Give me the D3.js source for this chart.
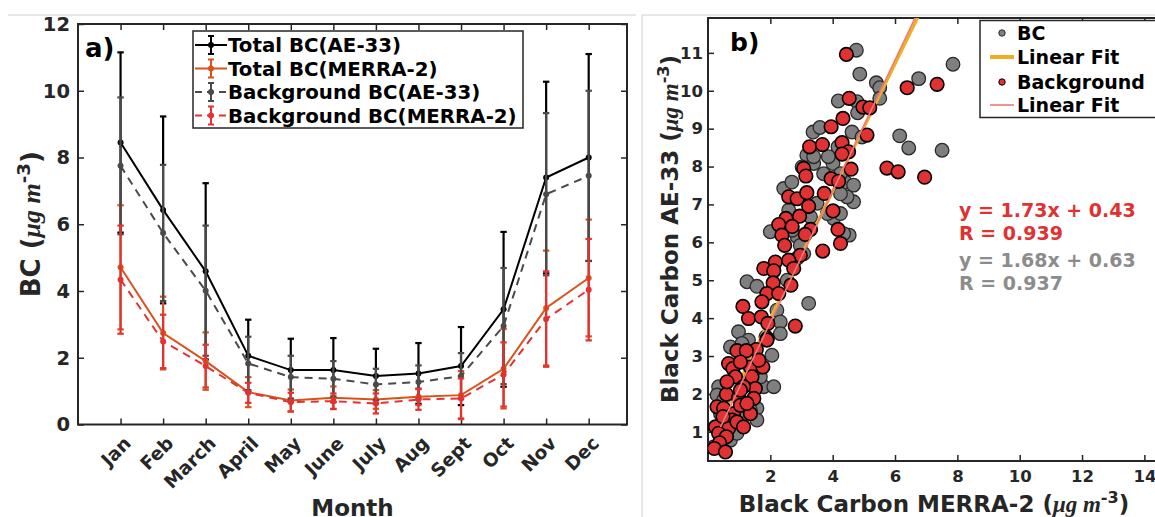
<!DOCTYPE html>
<html>
<head>
<meta charset="utf-8">
<script src="https://cdn.jsdelivr.net/npm/d3@7"></script>
<style>
body { margin: 0; background: #fff; }
svg { display: block; }
text { font-family: "DejaVu Sans", sans-serif; font-weight: bold; }
</style>
</head>
<body>
<svg id="chart" width="1155" height="517" fill="#262626"></svg>
<script>
// PANEL A DATA
const months = ['Jan', 'Feb', 'March', 'April', 'May', 'June', 'July', 'Aug', 'Sept', 'Oct', 'Nov', 'Dec']
const totalAE33 = [8.45, 6.43, 4.59, 2.06, 1.63, 1.63, 1.45, 1.53, 1.75, 3.45, 7.4, 8.0]
const totalAE33Sd = [2.7, 2.8, 2.64, 1.08, 0.94, 0.96, 0.82, 0.91, 1.17, 2.32, 2.87, 3.1]
const totalMERRA = [4.71, 2.74, 1.9, 0.97, 0.72, 0.8, 0.75, 0.83, 0.88, 1.67, 3.49, 4.39]
const totalMERRASd = [1.86, 1.09, 0.86, 0.45, 0.33, 0.34, 0.28, 0.25, 0.72, 1.19, 1.72, 1.75]
const bgAE33 = [7.75, 5.74, 4.01, 1.83, 1.42, 1.37, 1.2, 1.27, 1.45, 2.95, 6.9, 7.45]
const bgAE33Sd = [2.05, 2.04, 1.95, 0.8, 0.64, 0.53, 0.47, 0.5, 0.69, 1.74, 2.43, 2.55]
const bgMERRA = [4.34, 2.49, 1.75, 0.95, 0.67, 0.7, 0.63, 0.75, 0.78, 1.5, 3.16, 4.04]
const bgMERRASd = [1.62, 0.8, 0.64, 0.3, 0.28, 0.23, 0.3, 0.31, 0.6, 0.96, 1.43, 1.52]
const seriesNames = ['Total BC(AE-33)', 'Total BC(MERRA-2)', 'Background BC(AE-33)', 'Background BC(MERRA-2)']

// PANEL B DATA  [MERRA-2, AE-33]
const bcPoints = [[4.76,11.07],[7.86,10.7],[4.87,10.44],[6.76,10.32],[5.4,10.21],[5.51,10.08],[5.51,9.8],[4.18,9.73],[4.78,9.71],[4.8,9.42],
	[4.62,8.91],[4.94,8.78],[6.15,8.81],[6.44,8.49],[7.51,8.43],[3.37,8.91],[3.59,9.03],[3.17,8.3],[3.39,8.08],[4.01,8.08],
	[3.02,7.99],[2.43,7.42],[2.69,7.59],[4.4,7.59],[4.67,7.51],[4.67,7.07],[4.46,7.2],[3.5,7.03],[2.59,6.85],[4.03,6.63],
	[2.0,6.28],[4.53,6.19],[2.86,6.15],[1.25,4.96],[1.57,4.84],[3.23,4.39],[2.21,4.21],[2.32,3.9],[0.98,3.64],[1.3,3.42],
	[2.05,3.02],[0.72,3.24],[1.79,2.19],[0.34,2.19],[1.57,1.62],[1.57,1.31],[0.72,0.78],[0.29,1.97],[1.68,2.45],[1.52,2.67],
	[1.25,2.89],[1.09,3.33],[1.86,3.51],[2.54,5.0],[2.86,5.58],[3.07,5.7],[2.96,5.92],[2.7,6.32],[3.29,6.67],[3.83,6.76],
	[3.71,7.81],[4.25,7.81],[3.86,8.26],[4.17,8.52],[3.39,8.26],[0.56,0.96],[0.4,1.48],[0.82,1.0],[1.04,1.4],[0.5,1.84],
	[0.4,0.69],[0.18,0.6],[4.25,7.28],[4.25,6.76],[4.35,6.23],[2.32,3.59],[2.11,2.19],[1.36,1.57],[0.93,0.96],[1.2,2.3]]
const bgPoints = [[4.44,10.96],[6.39,10.08],[7.35,10.17],[4.53,9.8],[4.97,9.57],[5.19,9.55],[3.95,9.05],[4.33,9.27],[5.1,8.83],[3.26,8.52],
	[3.67,8.58],[4.3,8.63],[4.51,8.39],[4.3,8.33],[5.74,7.96],[6.1,7.86],[6.95,7.72],[4.59,7.93],[3.07,7.95],[3.14,7.75],
	[3.95,7.68],[4.19,7.61],[2.59,7.2],[2.86,7.15],[3.17,7.31],[3.73,7.29],[3.23,6.95],[4.01,6.83],[2.5,6.63],[2.27,6.47],
	[2.94,6.69],[2.7,6.42],[3.29,6.34],[4.17,6.34],[3.12,6.21],[2.37,6.19],[4.25,5.97],[2.46,5.92],[3.68,5.77],[2.96,5.66],
	[2.16,5.48],[2.59,5.53],[1.79,5.31],[2.75,5.31],[2.11,5.25],[2.09,4.93],[2.66,4.87],[1.89,4.65],[2.27,4.65],[1.73,4.43],
	[1.12,4.31],[1.3,3.99],[1.71,4.03],[1.92,3.86],[2.8,3.79],[1.9,3.46],[1.55,3.17],[0.93,3.14],[1.23,3.14],[0.66,2.8],
	[0.8,2.67],[1.36,2.71],[1.76,2.71],[0.88,2.45],[1.41,2.45],[1.52,2.14],[1.14,2.19],[0.59,1.99],[0.98,1.9],[1.47,1.88],
	[0.29,1.66],[0.5,1.62],[0.82,1.48],[1.36,1.48],[0.77,1.31],[0.45,1.22],[0.24,1.13],[0.66,1.09],[0.34,0.96],[0.59,0.87],
	[0.37,0.71],[0.2,0.56],[0.56,0.47],[1.04,1.7],[1.25,1.75],[0.93,1.26],[1.14,1.13],[0.48,1.4],[1.04,2.1],[0.61,2.32],
	[1.04,2.84],[1.63,2.89],[1.89,3.42]]
const fitBC = { slope: 1.68, intercept: 0.63, r: 0.937 }
const fitBg = { slope: 1.73, intercept: 0.43, r: 0.939 }
const legendB = ['BC', 'Linear Fit', 'Background', 'Linear Fit']

const svg = d3.select('#chart')
const axisColor = '#262626'

// SEPARATOR LINES (figure borders)
svg.append('path').attr('d', 'M8,15H636 M642,15V517 M642,15H1155').attr('stroke', '#cfcfcf').attr('fill', 'none')

// ================= PANEL A =================
const xA = d3.scaleLinear().domain([0, 12.9]).range([78, 627])
const yA = d3.scaleLinear().domain([0, 12]).range([424.5, 24])
const ga = svg.append('g')

const styleAxis = g => {
	g.select('.domain').remove()
	g.selectAll('.tick line').attr('stroke', axisColor).attr('stroke-width', 1.5)
	g.selectAll('.tick text').attr('fill', axisColor)
}

ga.append('g').attr('transform', `translate(0,${yA(0)})`)
	.call(d3.axisBottom(xA).tickValues(d3.range(1, 13)).tickSize(-6).tickFormat(d => months[d - 1]))
	.call(styleAxis)
	.call(g => g.selectAll('.tick text').attr('x', 0).attr('y', 0).attr('dy', 0)
		.attr('text-anchor', 'end').attr('font-size', 18.5)
		.attr('transform', 'translate(11,20) rotate(-45)'))
ga.append('g').attr('transform', `translate(0,${yA(12)})`)
	.call(d3.axisTop(xA).tickValues(d3.range(1, 13)).tickSize(-6).tickFormat(''))
	.call(styleAxis)
ga.append('g').attr('transform', `translate(${xA(0)},0)`)
	.call(d3.axisLeft(yA).tickValues(d3.range(0, 13, 2)).tickSize(-6).tickPadding(8))
	.call(styleAxis)
	.call(g => g.selectAll('.tick text').attr('font-size', 19.5))
ga.append('g').attr('transform', `translate(${xA(12.9)},0)`)
	.call(d3.axisRight(yA).tickValues(d3.range(0, 13, 2)).tickSize(-6).tickFormat(''))
	.call(styleAxis)
ga.append('rect').attr('x', xA(0)).attr('y', yA(12)).attr('width', xA(12.9) - xA(0)).attr('height', yA(0) - yA(12))
	.attr('fill', 'none').attr('stroke', axisColor).attr('stroke-width', 2)

const seriesA = [
	{ values: totalAE33, sd: totalAE33Sd, color: '#000000', dash: null },
	{ values: totalMERRA, sd: totalMERRASd, color: '#d95319', dash: null },
	{ values: bgAE33, sd: bgAE33Sd, color: '#4a4a4a', dash: '8,6' },
	{ values: bgMERRA, sd: bgMERRASd, color: '#e33232', dash: '8,6' }
]

seriesA.forEach(s => {
	const g = ga.append('g')
	const pts = s.values.map((v, i) => ({ m: i + 1, v, sd: s.sd[i] }))
	g.append('path').datum(pts)
		.attr('d', d3.line().x(d => xA(d.m)).y(d => yA(d.v)))
		.attr('fill', 'none').attr('stroke', s.color).attr('stroke-width', 2)
		.attr('stroke-dasharray', s.dash)
	const eb = g.selectAll('g.eb').data(pts).join('g')
	eb.append('line').attr('x1', d => xA(d.m)).attr('x2', d => xA(d.m))
		.attr('y1', d => yA(d.v - d.sd)).attr('y2', d => yA(d.v + d.sd))
		.attr('stroke', s.color).attr('stroke-width', 2.2)
	eb.selectAll('line.cap').data(d => [d.v - d.sd, d.v + d.sd].map(c => ({ m: d.m, c }))).join('line')
		.attr('x1', d => xA(d.m) - 3.2).attr('x2', d => xA(d.m) + 3.2)
		.attr('y1', d => yA(d.c)).attr('y2', d => yA(d.c))
		.attr('stroke', s.color).attr('stroke-width', 2.2)
	eb.append('circle').attr('cx', d => xA(d.m)).attr('cy', d => yA(d.v)).attr('r', 3).attr('fill', s.color)
})

// legend a
const legA = ga.append('g')
legA.append('rect').attr('x', 193).attr('y', 31).attr('width', 330).attr('height', 97)
	.attr('fill', '#fff').attr('stroke', axisColor).attr('stroke-width', 1.5)
seriesA.forEach((s, i) => {
	const y = 45 + i * 23.5
	legA.append('line').attr('x1', 195).attr('x2', 227).attr('y1', y).attr('y2', y)
		.attr('stroke', s.color).attr('stroke-width', 2).attr('stroke-dasharray', s.dash ? '7,5' : null)
	legA.append('path').attr('d', `M211,${y - 9}V${y + 9}M208,${y - 9}h6M208,${y + 9}h6`)
		.attr('stroke', s.color).attr('stroke-width', 2).attr('fill', 'none')
	legA.append('circle').attr('cx', 211).attr('cy', y).attr('r', 3).attr('fill', s.color)
	legA.append('text').attr('x', 228).attr('y', y).attr('dy', '0.36em').attr('font-size', 19.8)
		.attr('fill', '#000').text(seriesNames[i])
})

ga.append('text').attr('x', 85).attr('y', 57).attr('font-size', 26).attr('fill', '#000').text('a)')
ga.append('text').attr('x', (xA(0) + xA(12.9)) / 2).attr('y', 516).attr('text-anchor', 'middle')
	.attr('font-size', 23).text('Month')

const unitLabel = (t, pre) => {
	t.append('tspan').text(pre + ' (')
	t.append('tspan').attr('font-family', '"Liberation Serif", serif').attr('font-style', 'italic').text('μg m')
	t.append('tspan').attr('font-size', '0.7em').attr('dy', '-0.55em').text('-3')
	t.append('tspan').attr('dy', '0.385em').text(')')
}
ga.append('text').attr('transform', `translate(40,${(yA(0) + yA(12)) / 2}) rotate(-90)`)
	.attr('text-anchor', 'middle').attr('font-size', 26).call(t => unitLabel(t, 'BC'))

// ================= PANEL B =================
const xB = d3.scaleLinear().domain([0, 15]).range([708, 708 + 15 * 31.17])
const yB = d3.scaleLinear().domain([0.23, 11.92]).range([461, 18])
const gb = svg.append('g')

gb.append('clipPath').attr('id', 'clipB').append('rect')
	.attr('x', xB(0)).attr('y', yB(11.92)).attr('width', xB(15) - xB(0)).attr('height', yB(0.23) - yB(11.92))

gb.append('g').attr('transform', `translate(0,${yB(0.23)})`)
	.call(d3.axisBottom(xB).tickValues(d3.range(2, 15, 2)).tickSize(-6).tickPadding(9))
	.call(styleAxis)
	.call(g => g.selectAll('.tick text').attr('font-size', 16.5))
gb.append('g').attr('transform', `translate(0,${yB(11.92)})`)
	.call(d3.axisTop(xB).tickValues(d3.range(2, 15, 2)).tickSize(-6).tickFormat(''))
	.call(styleAxis)
gb.append('g').attr('transform', `translate(${xB(0)},0)`)
	.call(d3.axisLeft(yB).tickValues(d3.range(1, 12)).tickSize(-6).tickPadding(5))
	.call(styleAxis)
	.call(g => g.selectAll('.tick text').attr('font-size', 16.5))
gb.append('path').attr('d', `M${xB(15)},${yB(11.92)}H${xB(0)}V${yB(0.23)}H${xB(15)}`)
	.attr('fill', 'none').attr('stroke', axisColor).attr('stroke-width', 2)

const plotB = gb.append('g').attr('clip-path', 'url(#clipB)')
const fitLine = (f, x0, x1) => [x0, x1].map(x => [xB(x), yB(f.slope * x + f.intercept)])

plotB.selectAll('circle.bc').data(bcPoints).join('circle').attr('class', 'bc')
	.attr('cx', d => xB(d[0])).attr('cy', d => yB(d[1])).attr('r', 6.8)
	.attr('fill', '#7f7f7f').attr('stroke', '#2a2a2a').attr('stroke-width', 1.3)
plotB.append('path').attr('d', d3.line()(fitLine(fitBC, 0.25, 8)))
	.attr('stroke', '#edb120').attr('stroke-width', 3.2).attr('fill', 'none')
plotB.selectAll('circle.bg').data(bgPoints).join('circle').attr('class', 'bg')
	.attr('cx', d => xB(d[0])).attr('cy', d => yB(d[1])).attr('r', 6.8)
	.attr('fill', '#e03232').attr('stroke', '#000').attr('stroke-width', 1.6)
plotB.append('path').attr('d', d3.line()(fitLine(fitBg, 0.4, 8)))
	.attr('stroke', '#f07a7a').attr('stroke-width', 1.6).attr('fill', 'none')

// legend b
const legB = gb.append('g')
legB.append('rect').attr('x', 980).attr('y', 20.5).attr('width', 200).attr('height', 97)
	.attr('fill', '#fff').attr('stroke', axisColor).attr('stroke-width', 1.5)
const legRows = [33, 57, 82, 105]
legB.append('circle').attr('cx', 1002).attr('cy', legRows[0]).attr('r', 3.2).attr('fill', '#7f7f7f').attr('stroke', '#2a2a2a')
legB.append('line').attr('x1', 990).attr('x2', 1014).attr('y1', legRows[1]).attr('y2', legRows[1]).attr('stroke', '#edb120').attr('stroke-width', 4)
legB.append('circle').attr('cx', 1002).attr('cy', legRows[2]).attr('r', 3.2).attr('fill', '#e03232').attr('stroke', '#000')
legB.append('line').attr('x1', 990).attr('x2', 1014).attr('y1', legRows[3]).attr('y2', legRows[3]).attr('stroke', '#f07a7a').attr('stroke-width', 1.6)
legendB.forEach((t, i) => {
	legB.append('text').attr('x', 1017).attr('y', legRows[i]).attr('dy', '0.36em').attr('font-size', 19)
		.attr('fill', '#000').text(t)
})

// fit annotations
const ann = [
	{ t: `y = ${fitBg.slope.toFixed(2)}x + ${fitBg.intercept.toFixed(2)}`, y: 217, c: '#e03232' },
	{ t: `R = ${fitBg.r.toFixed(3)}`, y: 240, c: '#e03232' },
	{ t: `y = ${fitBC.slope.toFixed(2)}x + ${fitBC.intercept.toFixed(2)}`, y: 267, c: '#8c8c8c' },
	{ t: `R = ${fitBC.r.toFixed(3)}`, y: 290, c: '#8c8c8c' }
]
ann.forEach(a => gb.append('text').attr('x', 959).attr('y', a.y).attr('font-size', 19).attr('fill', a.c).text(a.t))

gb.append('text').attr('x', 730).attr('y', 51).attr('font-size', 25).attr('fill', '#000').text('b)')
gb.append('text').attr('x', 934).attr('y', 512).attr('text-anchor', 'middle').attr('font-size', 23)
	.call(t => unitLabel(t, 'Black Carbon MERRA-2'))
gb.append('text').attr('transform', `translate(678,229) rotate(-90)`).attr('text-anchor', 'middle')
	.attr('font-size', 23).call(t => unitLabel(t, 'Black Carbon AE-33'))
</script>
</body>
</html>
